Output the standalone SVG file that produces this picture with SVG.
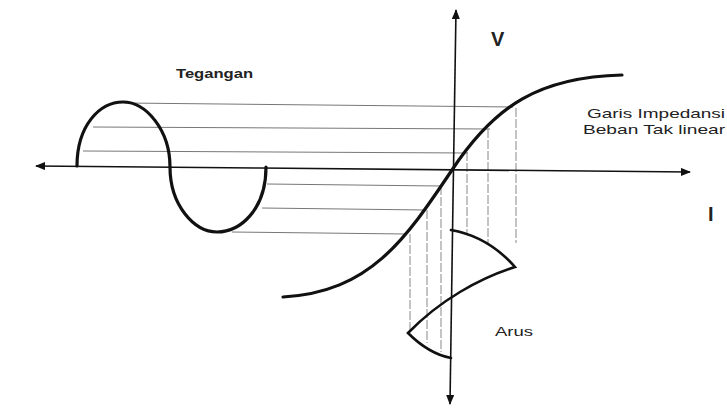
<svg xmlns="http://www.w3.org/2000/svg" width="727" height="409" viewBox="0 0 727 409">
<style>
.ax{stroke:#111;stroke-width:1.6;fill:none}
.thick{stroke:#111;stroke-width:3.2;fill:none;stroke-linecap:round}
.cur{stroke:#111;stroke-width:2.6;fill:none;stroke-linecap:round;stroke-linejoin:miter}
.proj{stroke:#777;stroke-width:1;fill:none}
.vproj{stroke:#888;stroke-width:1;fill:none;stroke-dasharray:9 2}
text{font-family:"Liberation Sans",Arial,sans-serif;fill:#222}
.lbl{font-size:12px;font-weight:bold}
.big{font-size:20px;font-weight:bold}
.note{font-size:13px}
</style>
<defs>
<marker id="ah" markerWidth="10" markerHeight="8" refX="9" refY="4" orient="auto" markerUnits="userSpaceOnUse">
<path d="M0,0 L10,4 L0,8 Z" fill="#111"/>
</marker>
</defs>
<rect width="727" height="409" fill="#fff"/>
<g id="connectors">
<line class="proj" x1="125" y1="103" x2="513" y2="107"/>
<line class="proj" x1="93" y1="127" x2="490" y2="129"/>
<line class="proj" x1="83" y1="151" x2="468" y2="153"/>
<line class="proj" x1="267" y1="184" x2="440" y2="186"/>
<line class="proj" x1="262" y1="208" x2="425" y2="210"/>
<line class="proj" x1="232" y1="232" x2="406" y2="234"/>
<line class="vproj" x1="467" y1="152" x2="467" y2="233"/>
<line class="vproj" x1="488" y1="129" x2="488" y2="243"/>
<line class="vproj" x1="516" y1="108" x2="516" y2="243"/>
<line class="vproj" x1="441" y1="186" x2="441" y2="352"/>
<line class="vproj" x1="427" y1="210" x2="427" y2="343"/>
<line class="vproj" x1="410" y1="234" x2="410" y2="333"/>
</g>
<g id="axis-h">
<line class="ax" x1="260" y1="168" x2="36" y2="166" marker-end="url(#ah)"/>
<line class="ax" x1="260" y1="168" x2="690" y2="172" marker-end="url(#ah)"/>
</g>
<g id="axis-v">
<line class="ax" x1="453" y1="200" x2="456" y2="10" marker-end="url(#ah)"/>
<line class="ax" x1="453" y1="200" x2="450" y2="404" marker-end="url(#ah)"/>
</g>
<g id="tegangan">
<path class="thick" d="M77,166 C77,125 100,102 123,102 C146,102 170,130 170,167 C170,205 194,232 217,232 C240,232 266,210 266,167"/>
<text class="lbl" x="176" y="78" textLength="77" lengthAdjust="spacingAndGlyphs">Tegangan</text>
</g>
<g id="kurva">
<path class="thick" d="M283,297 C370,292 405,240 452,170 C495,105 540,77 622,75"/>
<text class="note" x="587" y="118" textLength="138" lengthAdjust="spacingAndGlyphs">Garis Impedansi</text>
<text class="note" x="583" y="134" textLength="142" lengthAdjust="spacingAndGlyphs">Beban Tak linear</text>
</g>
<g id="arus">
<path class="cur" d="M451,230 C480,235 500,250 515,267 C480,278 440,300 408,333 C420,345 435,355 451,358"/>
<text class="note" x="495" y="336" textLength="38" lengthAdjust="spacingAndGlyphs">Arus</text>
</g>
<g id="label-v"><text class="big" x="491" y="46">V</text></g>
<g id="label-i"><text class="big" x="708" y="221">I</text></g>
</svg>
